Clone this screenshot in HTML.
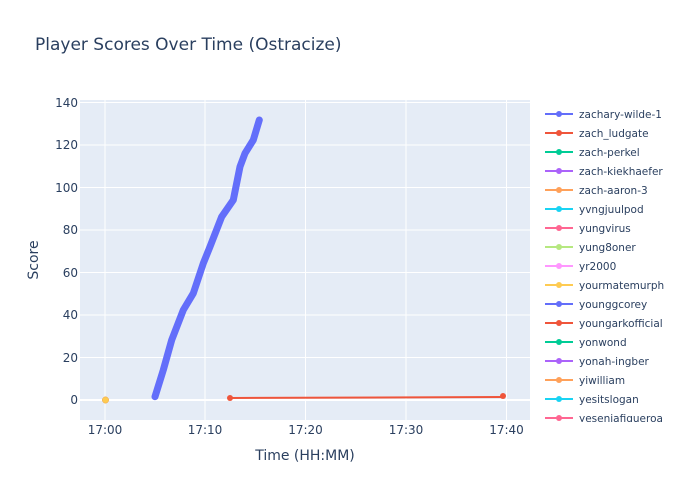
<!DOCTYPE html>
<html><head><meta charset="utf-8"><style>
html,body{margin:0;padding:0;background:#fff;}
svg{display:block;font-family:"DejaVu Sans","Liberation Sans",sans-serif;}
</style></head><body>
<svg width="700" height="500" viewBox="0 0 700 500" xmlns="http://www.w3.org/2000/svg">
<rect width="700" height="500" fill="#fff"/>
<text x="35" y="50" font-size="17" fill="#2a3f5f">Player Scores Over Time (Ostracize)</text>
<rect x="80" y="100" width="450" height="320" fill="#e5ecf6"/>
<g stroke="#fff" stroke-width="1">
<line x1="80" x2="530" y1="357.5" y2="357.5"/>
<line x1="80" x2="530" y1="315" y2="315"/>
<line x1="80" x2="530" y1="272.5" y2="272.5"/>
<line x1="80" x2="530" y1="230" y2="230"/>
<line x1="80" x2="530" y1="187.5" y2="187.5"/>
<line x1="80" x2="530" y1="145" y2="145"/>
<line x1="80" x2="530" y1="102.5" y2="102.5"/>
<line x1="105" x2="105" y1="100" y2="420"/>
<line x1="205" x2="205" y1="100" y2="420"/>
<line x1="305.5" x2="305.5" y1="100" y2="420"/>
<line x1="406" x2="406" y1="100" y2="420"/>
<line x1="506.5" x2="506.5" y1="100" y2="420"/>
</g>
<line x1="80" x2="530" y1="400" y2="400" stroke="#fff" stroke-width="2"/>
<g font-size="12" fill="#2a3f5f" text-anchor="end">
<text x="78" y="404">0</text><text x="78" y="362">20</text><text x="78" y="319">40</text>
<text x="78" y="277">60</text><text x="78" y="234">80</text><text x="78" y="192">100</text>
<text x="78" y="149">120</text><text x="78" y="107">140</text>
</g>
<g font-size="12" fill="#2a3f5f" text-anchor="middle">
<text x="105" y="434">17:00</text><text x="205" y="434">17:10</text><text x="305.5" y="434">17:20</text>
<text x="406" y="434">17:30</text><text x="506.5" y="434">17:40</text>
</g>
<text x="305" y="460" font-size="14" fill="#2a3f5f" text-anchor="middle">Time (HH:MM)</text>
<text transform="translate(38,260) rotate(-90)" font-size="14" fill="#2a3f5f" text-anchor="middle">Score</text>
<polyline points="155,396.7 163.3,370 171.7,340 183.3,310 193.3,293.3 203.3,263.3 210,246.7 221.7,216.7 233.3,200 240,166.7 245,153.3 253.3,140 259.3,120" fill="none" stroke="#636efa" stroke-width="7" stroke-linecap="round" stroke-linejoin="round"/>
<line x1="230" y1="398" x2="503" y2="397" stroke="#ef553b" stroke-width="2"/>
<circle cx="230" cy="398" r="3" fill="#ef553b"/>
<circle cx="503" cy="396" r="3" fill="#ef553b"/>
<circle cx="105.5" cy="400" r="3.2" fill="#fecb52" stroke="#f0a040" stroke-width="0.5"/>
<defs><clipPath id="lc"><rect x="540" y="100" width="160" height="322"/></clipPath></defs>
<g clip-path="url(#lc)" font-size="10.5" fill="#2a3f5f">
<g id="l">
</g>
<line x1="545" x2="573" y1="114" y2="114" stroke="#636efa" stroke-width="2"/><circle cx="559" cy="114" r="3" fill="#636efa"/><text x="579" y="118">zachary-wilde-1</text>
<line x1="545" x2="573" y1="133" y2="133" stroke="#ef553b" stroke-width="2"/><circle cx="559" cy="133" r="3" fill="#ef553b"/><text x="579" y="137">zach_ludgate</text>
<line x1="545" x2="573" y1="152" y2="152" stroke="#00cc96" stroke-width="2"/><circle cx="559" cy="152" r="3" fill="#00cc96"/><text x="579" y="156">zach-perkel</text>
<line x1="545" x2="573" y1="171" y2="171" stroke="#ab63fa" stroke-width="2"/><circle cx="559" cy="171" r="3" fill="#ab63fa"/><text x="579" y="175">zach-kiekhaefer</text>
<line x1="545" x2="573" y1="190" y2="190" stroke="#ffa15a" stroke-width="2"/><circle cx="559" cy="190" r="3" fill="#ffa15a"/><text x="579" y="194">zach-aaron-3</text>
<line x1="545" x2="573" y1="209" y2="209" stroke="#19d3f3" stroke-width="2"/><circle cx="559" cy="209" r="3" fill="#19d3f3"/><text x="579" y="213">yvngjuulpod</text>
<line x1="545" x2="573" y1="228" y2="228" stroke="#ff6692" stroke-width="2"/><circle cx="559" cy="228" r="3" fill="#ff6692"/><text x="579" y="232">yungvirus</text>
<line x1="545" x2="573" y1="247" y2="247" stroke="#b6e880" stroke-width="2"/><circle cx="559" cy="247" r="3" fill="#b6e880"/><text x="579" y="251">yung8oner</text>
<line x1="545" x2="573" y1="266" y2="266" stroke="#ff97ff" stroke-width="2"/><circle cx="559" cy="266" r="3" fill="#ff97ff"/><text x="579" y="270">yr2000</text>
<line x1="545" x2="573" y1="285" y2="285" stroke="#fecb52" stroke-width="2"/><circle cx="559" cy="285" r="3" fill="#fecb52"/><text x="579" y="289">yourmatemurph</text>
<line x1="545" x2="573" y1="304" y2="304" stroke="#636efa" stroke-width="2"/><circle cx="559" cy="304" r="3" fill="#636efa"/><text x="579" y="308">younggcorey</text>
<line x1="545" x2="573" y1="323" y2="323" stroke="#ef553b" stroke-width="2"/><circle cx="559" cy="323" r="3" fill="#ef553b"/><text x="579" y="327">youngarkofficial</text>
<line x1="545" x2="573" y1="342" y2="342" stroke="#00cc96" stroke-width="2"/><circle cx="559" cy="342" r="3" fill="#00cc96"/><text x="579" y="346">yonwond</text>
<line x1="545" x2="573" y1="361" y2="361" stroke="#ab63fa" stroke-width="2"/><circle cx="559" cy="361" r="3" fill="#ab63fa"/><text x="579" y="365">yonah-ingber</text>
<line x1="545" x2="573" y1="380" y2="380" stroke="#ffa15a" stroke-width="2"/><circle cx="559" cy="380" r="3" fill="#ffa15a"/><text x="579" y="384">yiwilliam</text>
<line x1="545" x2="573" y1="399" y2="399" stroke="#19d3f3" stroke-width="2"/><circle cx="559" cy="399" r="3" fill="#19d3f3"/><text x="579" y="403">yesitslogan</text>
<line x1="545" x2="573" y1="418" y2="418" stroke="#ff6692" stroke-width="2"/><circle cx="559" cy="418" r="3" fill="#ff6692"/><text x="579" y="422">yeseniafigueroa</text>
</g>
</svg>
</body></html>
